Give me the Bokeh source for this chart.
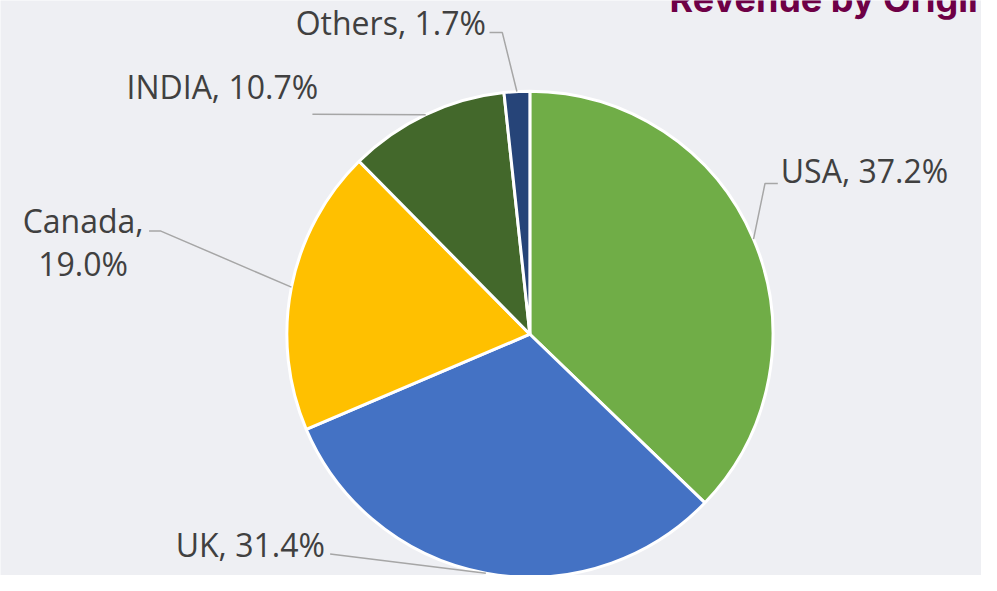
import math
from bokeh.plotting import figure
from bokeh.models import Range1d, ColumnDataSource
from bokeh.core.properties import value
from bokeh.embed import file_html
from bokeh.resources import INLINE

# ---- data ----
countries = ["USA", "UK", "Canada", "INDIA", "Others"]
shares = [37.2, 31.4, 19.0, 10.7, 1.7]
colors = ["#70ad47", "#4472c4", "#ffc000", "#43682b", "#264478"]
title_text = "Revenue by Origin"

# ---- layout (reference pixel coordinates; y measured from top) ----
W, H = 997, 591
FW, FH = 981, 575
SX, SY = FW / W, FH / H
cx, cy_ref, R = 538, 343, 247
cy = H - cy_ref
BG = "#eeeff3"
FS = 32          # label font size (px)
BOFF = 12        # baseline correction (px)

# label anchors: (x, baseline y from top, align)
label_pos = {
    "USA": [(793, 187, "left")],
    "UK": [(178, 571, "left")],
    "Canada": [(84, 238, "center"), (84, 283, "center")],
    "INDIA": [(128, 101, "left")],
    "Others": [(300, 35, "left")],
}
# leader start points (label side), optional elbow
leader_start = {
    "USA": [(790, 188), (777, 188)],
    "UK": [(335, 569)],
    "Canada": [(151, 237), (163, 237)],
    "INDIA": [(317, 117)],
    "Others": [(497, 33), (510, 33)],
}

p = figure(width=FW, height=FH, output_backend="svg",
           toolbar_location=None, min_border=0,
           x_range=Range1d(0, W), y_range=Range1d(0, H))
p.axis.visible = False
p.grid.visible = False
p.outline_line_color = None
p.background_fill_color = BG
p.border_fill_color = BG

# wedges: start at top, go clockwise
total = sum(shares)
starts, ends, mids = [], [], []
cum = 0.0
for s in shares:
    a0 = math.pi / 2 - 2 * math.pi * cum / total
    a1 = math.pi / 2 - 2 * math.pi * (cum + s) / total
    starts.append(a0)
    ends.append(a1)
    mids.append((a0 + a1) / 2)
    cum += s

src = ColumnDataSource(dict(x=[cx] * len(shares), y=[cy] * len(shares),
                            start=starts, end=ends, color=colors))
p.wedge(x="x", y="y", radius=R, radius_units="data", start_angle="start",
        end_angle="end", direction="clock", fill_color="color",
        line_color="white", line_width=3, source=src)

# leader lines
for name, m in zip(countries, mids):
    ex = cx + R * math.cos(m)
    ey = cy + R * math.sin(m) * SX / SY
    pts = leader_start[name]
    xs = [pt[0] for pt in pts] + [ex]
    ys = [H - pt[1] for pt in pts] + [ey]
    p.line(xs, ys, line_color="#a6a6a6", line_width=1.5)

# labels
for name, s in zip(countries, shares):
    pos = label_pos[name]
    if len(pos) == 1:
        texts = [f"{name}, {s:.1f}%"]
    else:
        texts = [f"{name},", f"{s:.1f}%"]
    for (lx, ly, al), t in zip(pos, texts):
        p.text(x=[lx], y=[H - ly + BOFF / SY], text=[t],
               text_font=value("Open Sans"),
               text_font_size=f"{FS}px", text_color="#404040",
               text_align=al, text_baseline="alphabetic")

# title (partially cut at top)
p.text(x=[680], y=[H - 11 + BOFF / SY], text=[title_text],
       text_font=value("Inter"),
       text_font_style="bold", text_font_size="36px", text_color="#6e0046",
       text_align="left", text_baseline="alphabetic")

open("out.html", "w").write(file_html(p, INLINE))
